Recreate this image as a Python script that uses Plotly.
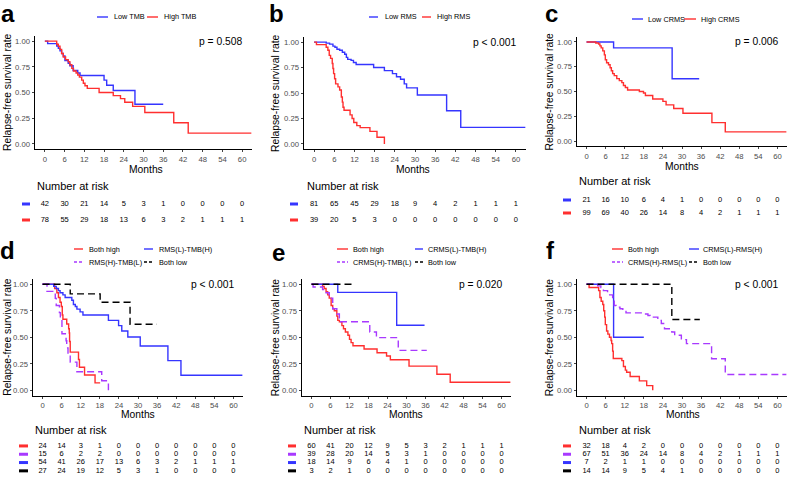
import plotly.graph_objects as go

W, H = 788, 477
FONT = "Liberation Sans"

MONTH_TICKS = [0, 6, 12, 18, 24, 30, 36, 42, 48, 54, 60]
SURV_TICKS = [0.0, 0.25, 0.5, 0.75, 1.0]
SURV_TICK_LABELS = ["0.00", "0.25", "0.50", "0.75", "1.00"]

RED = "#FF2F2F"
BLUE = "#3535FF"
PURPLE = "#A839FF"
BLACK = "#000000"

# ---------------- Panel a: TMB ----------------
A_LOW_T = [0, 0.85, 3.6, 4.1, 4.6, 5.1, 5.6, 6.1, 7.1, 7.6, 8.6, 10.0, 10.7, 18.0, 18.8, 20.8, 27.4, 36.0]
A_LOW_S = [1.0, 0.976, 0.952, 0.93, 0.905, 0.88, 0.855, 0.81, 0.785, 0.76, 0.714, 0.69, 0.665, 0.62, 0.57, 0.52, 0.385, 0.385]
A_HIGH_T = [0, 3.6, 4.1, 4.6, 5.1, 5.6, 6.3, 7.1, 7.6, 8.2, 8.7, 9.5, 10.0, 10.5, 11.2, 11.7, 12.2, 12.9, 16.5, 20.8, 23.0, 24.3, 26.7, 30.4, 39.2, 43.6, 62.8]
A_HIGH_S = [1.0, 0.97, 0.95, 0.92, 0.88, 0.845, 0.82, 0.80, 0.77, 0.735, 0.71, 0.69, 0.67, 0.65, 0.62, 0.59, 0.565, 0.54, 0.50, 0.47, 0.44, 0.405, 0.365, 0.305, 0.205, 0.105, 0.105]
A_RISK_LOW = [42, 30, 21, 14, 5, 3, 1, 0, 0, 0, 0]
A_RISK_HIGH = [78, 55, 29, 18, 13, 6, 3, 2, 1, 1, 1]

# ---------------- Panel b: RMS ----------------
B_LOW_T = [0, 3.6, 4.6, 5.6, 6.2, 6.8, 7.6, 8.4, 9.1, 9.6, 10.0, 11.0, 11.7, 12.5, 17.7, 20.9, 23.3, 24.5, 25.7, 26.8, 27.5, 30.7, 39.4, 43.6, 62.8]
B_LOW_S = [1.0, 0.99, 0.98, 0.96, 0.95, 0.93, 0.92, 0.90, 0.88, 0.85, 0.83, 0.82, 0.80, 0.78, 0.75, 0.72, 0.69, 0.66, 0.635, 0.59, 0.55, 0.48, 0.325, 0.162, 0.162]
B_HIGH_T = [0, 0.7, 3.6, 4.1, 4.5, 4.9, 5.4, 5.6, 5.8, 6.1, 6.4, 7.1, 7.6, 8.1, 8.4, 8.6, 8.9, 10.7, 11.3, 11.8, 12.7, 13.7, 16.6, 18.7, 20.9]
B_HIGH_S = [1.0, 0.975, 0.95, 0.92, 0.87, 0.84, 0.79, 0.74, 0.69, 0.64, 0.59, 0.56, 0.53, 0.46, 0.41, 0.36, 0.33, 0.285, 0.25, 0.21, 0.18, 0.16, 0.123, 0.065, 0.0]
B_RISK_LOW = [81, 65, 45, 29, 18, 9, 4, 2, 1, 1, 1]
B_RISK_HIGH = [39, 20, 5, 3, 0, 0, 0, 0, 0, 0, 0]

# ---------------- Panel c: CRMS ----------------
C_LOW_T = [0, 8.5, 26.9, 35.4]
C_LOW_S = [1.0, 0.94, 0.628, 0.628]
C_HIGH_T = [0, 2.9, 3.8, 4.2, 4.6, 5.1, 5.6, 5.9, 6.3, 6.9, 7.4, 7.8, 8.2, 8.7, 9.5, 10.3, 11.1, 11.6, 12.2, 12.9, 16.6, 17.9, 18.5, 20.8, 24.0, 25.0, 27.4, 30.3, 39.4, 43.6, 62.8]
C_HIGH_S = [1.0, 0.99, 0.98, 0.96, 0.94, 0.91, 0.87, 0.82, 0.79, 0.77, 0.74, 0.71, 0.68, 0.66, 0.63, 0.61, 0.59, 0.56, 0.54, 0.515, 0.50, 0.485, 0.46, 0.425, 0.40, 0.365, 0.328, 0.28, 0.186, 0.093, 0.093]
C_RISK_LOW = [21, 16, 10, 6, 4, 1, 0, 0, 0, 0, 0]
C_RISK_HIGH = [99, 69, 40, 26, 14, 8, 4, 2, 1, 1, 1]

# ---------------- Panel d: RMS x TMB ----------------
D_BH_T = [0, 3.8, 4.5, 5.0, 5.5, 5.9, 6.2, 6.4, 7.6, 8.2, 8.4, 8.5, 8.7, 11.3, 11.6, 13.2, 16.5, 18.1]
D_BH_S = [1.0, 0.96, 0.92, 0.875, 0.83, 0.79, 0.71, 0.67, 0.625, 0.58, 0.54, 0.46, 0.36, 0.29, 0.218, 0.145, 0.07, 0.07]
D_HL_T = [0, 1.4, 4.0, 4.3, 5.3, 5.6, 6.1, 7.4, 7.6, 8.0, 8.7, 10.8, 18.6, 20.7]
D_HL_S = [1.0, 0.933, 0.867, 0.80, 0.733, 0.667, 0.533, 0.467, 0.40, 0.333, 0.266, 0.175, 0.09, 0.0]
D_LH_T = [0, 3.5, 4.3, 5.0, 5.5, 6.4, 7.1, 9.2, 9.7, 10.3, 10.8, 11.8, 12.7, 20.7, 23.9, 24.9, 26.8, 30.7, 39.4, 43.5, 62.8]
D_LH_S = [1.0, 0.98, 0.96, 0.94, 0.92, 0.90, 0.875, 0.85, 0.81, 0.79, 0.766, 0.74, 0.71, 0.66, 0.61, 0.56, 0.503, 0.418, 0.28, 0.142, 0.142]
D_BL_T = [0, 8.7, 18.1, 27.5, 35.9]
D_BL_S = [1.0, 0.91, 0.83, 0.623, 0.623]
D_RISK_BH = [24, 14, 3, 1, 0, 0, 0, 0, 0, 0, 0]
D_RISK_HL = [15, 6, 2, 2, 0, 0, 0, 0, 0, 0, 0]
D_RISK_LH = [54, 41, 26, 17, 13, 6, 3, 2, 1, 1, 1]
D_RISK_BL = [27, 24, 19, 12, 5, 3, 1, 0, 0, 0, 0]

# ---------------- Panel e: CRMS x TMB ----------------
E_BH_T = [0, 3.5, 4.0, 4.6, 5.1, 5.6, 6.2, 6.7, 7.2, 8.0, 8.3, 8.8, 9.6, 10.1, 10.7, 11.5, 12.0, 12.5, 13.1, 16.6, 20.7, 23.7, 24.9, 30.8, 39.6, 43.8, 62.8]
E_BH_S = [1.0, 0.98, 0.96, 0.93, 0.90, 0.87, 0.80, 0.77, 0.75, 0.70, 0.66, 0.646, 0.61, 0.58, 0.55, 0.52, 0.48, 0.45, 0.42, 0.39, 0.354, 0.323, 0.288, 0.228, 0.152, 0.076, 0.076]
E_HL_T = [0, 0.5, 3.5, 4.6, 5.6, 6.7, 8.0, 8.8, 18.4, 20.5, 27.4, 36.4]
E_HL_S = [1.0, 0.975, 0.95, 0.92, 0.87, 0.77, 0.72, 0.646, 0.55, 0.497, 0.377, 0.377]
E_LH_T = [0, 8.3, 26.9, 35.7]
E_LH_S = [1.0, 0.924, 0.614, 0.614]
E_BL_T = [0, 12.8]
E_BL_S = [1.0, 1.0]
E_RISK_BH = [60, 41, 20, 12, 9, 5, 3, 2, 1, 1, 1]
E_RISK_HL = [39, 28, 20, 14, 5, 3, 1, 0, 0, 0, 0]
E_RISK_LH = [18, 14, 9, 6, 4, 1, 0, 0, 0, 0, 0]
E_RISK_BL = [3, 2, 1, 0, 0, 0, 0, 0, 0, 0, 0]

# ---------------- Panel f: CRMS x RMS ----------------
F_BH_T = [0, 0.8, 3.8, 4.2, 4.6, 5.1, 5.4, 5.7, 5.9, 6.3, 6.7, 7.2, 7.7, 7.9, 8.2, 8.4, 11.1, 11.6, 12.2, 12.6, 13.7, 16.6, 18.9, 20.8]
F_BH_S = [1.0, 0.97, 0.94, 0.875, 0.84, 0.81, 0.75, 0.69, 0.62, 0.56, 0.53, 0.50, 0.47, 0.44, 0.37, 0.30, 0.28, 0.225, 0.19, 0.17, 0.13, 0.089, 0.044, 0.0]
F_HL_T = [0, 3.5, 4.5, 5.3, 6.6, 8.2, 8.7, 9.3, 10.5, 11.4, 12.4, 17.7, 19.3, 20.0, 22.4, 23.5, 24.5, 26.8, 27.7, 29.8, 31.4, 39.3, 43.6, 62.8]
F_HL_S = [1.0, 0.985, 0.97, 0.94, 0.90, 0.85, 0.80, 0.785, 0.77, 0.75, 0.73, 0.72, 0.705, 0.69, 0.66, 0.63, 0.58, 0.55, 0.52, 0.478, 0.44, 0.297, 0.149, 0.149]
F_LH_T = [0, 8.5, 18.0]
F_LH_S = [1.0, 0.5, 0.5]
F_BL_T = [0, 26.8, 35.6]
F_BL_S = [1.0, 0.668, 0.668]
F_RISK_BH = [32, 18, 4, 2, 0, 0, 0, 0, 0, 0, 0]
F_RISK_HL = [67, 51, 36, 24, 14, 8, 4, 2, 1, 1, 1]
F_RISK_LH = [7, 2, 1, 1, 0, 0, 0, 0, 0, 0, 0]
F_RISK_BL = [14, 14, 9, 5, 4, 1, 0, 0, 0, 0, 0]

P_VALUES = ["p = 0.508", "p < 0.001", "p = 0.006", "p < 0.001", "p = 0.020", "p < 0.001"]
LETTERS = ["a", "b", "c", "d", "e", "f"]

SOLID, DASH = "solid", "7px,4px"

panels = [
    dict(curves=[("Low TMB", A_LOW_T, A_LOW_S, BLUE, SOLID), ("High TMB", A_HIGH_T, A_HIGH_S, RED, SOLID)],
         risk=[(A_RISK_LOW, BLUE), (A_RISK_HIGH, RED)]),
    dict(curves=[("Low RMS", B_LOW_T, B_LOW_S, BLUE, SOLID), ("High RMS", B_HIGH_T, B_HIGH_S, RED, SOLID)],
         risk=[(B_RISK_LOW, BLUE), (B_RISK_HIGH, RED)]),
    dict(curves=[("Low CRMS", C_LOW_T, C_LOW_S, BLUE, SOLID), ("High CRMS", C_HIGH_T, C_HIGH_S, RED, SOLID)],
         risk=[(C_RISK_LOW, BLUE), (C_RISK_HIGH, RED)]),
    dict(curves=[("Both high", D_BH_T, D_BH_S, RED, SOLID), ("RMS(L)-TMB(H)", D_LH_T, D_LH_S, BLUE, SOLID),
                 ("RMS(H)-TMB(L)", D_HL_T, D_HL_S, PURPLE, DASH), ("Both low", D_BL_T, D_BL_S, BLACK, DASH)],
         risk=[(D_RISK_BH, RED), (D_RISK_HL, PURPLE), (D_RISK_LH, BLUE), (D_RISK_BL, BLACK)]),
    dict(curves=[("Both high", E_BH_T, E_BH_S, RED, SOLID), ("CRMS(L)-TMB(H)", E_LH_T, E_LH_S, BLUE, SOLID),
                 ("CRMS(H)-TMB(L)", E_HL_T, E_HL_S, PURPLE, DASH), ("Both low", E_BL_T, E_BL_S, BLACK, DASH)],
         risk=[(E_RISK_BH, RED), (E_RISK_HL, PURPLE), (E_RISK_LH, BLUE), (E_RISK_BL, BLACK)]),
    dict(curves=[("Both high", F_BH_T, F_BH_S, RED, SOLID), ("CRMS(L)-RMS(H)", F_LH_T, F_LH_S, BLUE, SOLID),
                 ("CRMS(H)-RMS(L)", F_HL_T, F_HL_S, PURPLE, DASH), ("Both low", F_BL_T, F_BL_S, BLACK, DASH)],
         risk=[(F_RISK_BH, RED), (F_RISK_HL, PURPLE), (F_RISK_LH, BLUE), (F_RISK_BL, BLACK)]),
]

# pixel layout: plot (x0, x1, ytop, ybot), table (ytop, ybot)
layout_px = [
    dict(plot=(35, 252, 36, 149), table=(196, 228), ytitle_x=7.5, months=(146, 169), nar=(35, 186),
         letter=(8, 13.5), legend_y=[17], legend_keys=[(97, 108, 112), (147, 158, 162)], key_x=(22, 30)),
    dict(plot=(304, 526, 37, 149), table=(196, 228), ytitle_x=276, months=(413, 169), nar=(305, 186),
         letter=(276, 13.5), legend_y=[17], legend_keys=[(369, 378, 383), (422, 431, 435)], key_x=(290, 298)),
    dict(plot=(577, 787, 37, 146), table=(193.5, 219.5), ytitle_x=549, months=(682, 166), nar=(577, 181),
         letter=(551, 13.5), legend_y=[19], legend_keys=[(632, 643, 646), (684, 696, 699)], key_x=(563, 571)),
    dict(plot=(33, 243, 279, 395.6), table=(441.8, 475), ytitle_x=7.5, months=(138, 414.5), nar=(33, 430),
         letter=(7, 250), legend_y=[249, 262], legend_keys=[(74, 83, 87), (144, 153, 157)], key_x=(19, 28)),
    dict(plot=(302, 511, 279, 395.6), table=(441.8, 475), ytitle_x=275, months=(406, 414.5), nar=(302, 430),
         letter=(278, 252), legend_y=[249, 262], legend_keys=[(337, 348, 351), (415, 423, 426)], key_x=(288, 296)),
    dict(plot=(577, 787, 279, 395.6), table=(441.8, 475), ytitle_x=549, months=(683, 414.5), nar=(577, 430),
         letter=(550, 251), legend_y=[249, 262], legend_keys=[(612, 623, 626), (689, 699, 701)], key_x=(563, 571)),
]


def fx(px):
    return px / W


def fy(py):
    return 1 - py / H


fig = go.Figure()
annotations = []
shapes = []
lay = {}

for i, (pan, L) in enumerate(zip(panels, layout_px)):
    pi = i + 1
    ti = i + 7
    x0, x1, yt, yb = L["plot"]
    # plot axes
    lay[f"xaxis{pi}"] = dict(domain=[fx(x0), fx(x1)], range=[-3, 63], anchor=f"y{pi}",
                             tickvals=MONTH_TICKS, ticks="outside", ticklen=2.5, tickwidth=0.8,
                             showline=True, linecolor="black", linewidth=0.8, showgrid=False, zeroline=False,
                             tickfont=dict(size=7.7, color="#4D4D4D", family=FONT), fixedrange=True)
    lay[f"yaxis{pi}"] = dict(domain=[fy(yb), fy(yt)], range=[-0.05, 1.05], anchor=f"x{pi}",
                             tickvals=SURV_TICKS, ticktext=SURV_TICK_LABELS, ticks="outside", ticklen=2.5,
                             tickwidth=0.8, showline=True, linecolor="black", linewidth=0.8, showgrid=False,
                             zeroline=False, tickfont=dict(size=7.7, color="#4D4D4D", family=FONT), fixedrange=True)
    # table axes
    tyt, tyb = L["table"]
    n = len(pan["risk"])
    lay[f"xaxis{ti}"] = dict(domain=[fx(x0), fx(x1)], range=[-3, 63], anchor=f"y{ti}", visible=False,
                             fixedrange=True)
    lay[f"yaxis{ti}"] = dict(domain=[fy(tyb), fy(tyt)], range=[n - 0.5, -0.5], anchor=f"x{ti}", visible=False,
                             fixedrange=True)

    for name, t, s, col, dash in pan["curves"]:
        fig.add_trace(go.Scatter(x=t, y=s, mode="lines", line=dict(shape="hv", color=col, width=1.4, dash=dash),
                                 name=name, showlegend=False, xaxis=f"x{pi}", yaxis=f"y{pi}", hoverinfo="skip"))

    row_h = (tyb - tyt) / n
    for r, (vals, col) in enumerate(pan["risk"]):
        fig.add_trace(go.Scatter(x=MONTH_TICKS, y=[r] * len(vals), mode="text", text=[str(v) for v in vals],
                                 textfont=dict(size=7.5, color="black", family=FONT), showlegend=False,
                                 xaxis=f"x{ti}", yaxis=f"y{ti}", cliponaxis=False, hoverinfo="skip"))
        ry = tyt + (r + 0.5) * row_h
        kx0, kx1 = L["key_x"]
        shapes.append(dict(type="line", xref="paper", yref="paper", x0=fx(kx0), x1=fx(kx1), y0=fy(ry), y1=fy(ry),
                           line=dict(color=col, width=3)))

    # legend (manual)
    curves = pan["curves"]
    for k, (name, t, s, col, dash) in enumerate(curves):
        row = k // 2
        colk = k % 2
        ly = L["legend_y"][row] if row < len(L["legend_y"]) else L["legend_y"][-1]
        kx0, kx1, tx = L["legend_keys"][colk]
        shapes.append(dict(type="line", xref="paper", yref="paper", x0=fx(kx0), x1=fx(kx1), y0=fy(ly), y1=fy(ly),
                           line=dict(color=col, width=1.4, dash="3px,2px" if dash != SOLID else "solid")))
        annotations.append(dict(xref="paper", yref="paper", x=fx(tx), y=fy(ly), text=name, showarrow=False,
                                xanchor="left", yanchor="middle", font=dict(size=7.3, color="black", family=FONT)))

    # p-value
    annotations.append(dict(xref=f"x{pi}", yref=f"y{pi}", x=61, y=1.0, text=P_VALUES[i], showarrow=False,
                            xanchor="right", yanchor="middle", font=dict(size=10.3, color="black", family=FONT)))
    # axis titles
    annotations.append(dict(xref="paper", yref="paper", x=fx(L["ytitle_x"]), y=fy((yt + yb) / 2),
                            text="Relapse-free survival rate", textangle=-90, showarrow=False,
                            xanchor="center", yanchor="middle", font=dict(size=10.3, color="black", family=FONT)))
    mx, my = L["months"]
    annotations.append(dict(xref="paper", yref="paper", x=fx(mx), y=fy(my), text="Months", showarrow=False,
                            xanchor="center", yanchor="middle", font=dict(size=10.3, color="black", family=FONT)))
    nx, ny = L["nar"]
    annotations.append(dict(xref="paper", yref="paper", x=fx(nx), y=fy(ny), text="Number at risk", showarrow=False,
                            xanchor="left", yanchor="middle", font=dict(size=11, color="black", family=FONT)))
    lx, lyy = L["letter"]
    annotations.append(dict(xref="paper", yref="paper", x=fx(lx), y=fy(lyy), text=f"<b>{LETTERS[i]}</b>",
                            showarrow=False, xanchor="center", yanchor="middle",
                            font=dict(size=24, color="black", family=FONT)))

fig.update_layout(width=W, height=H, margin=dict(l=0, r=0, t=0, b=0), plot_bgcolor="white",
                  paper_bgcolor="white", showlegend=False, annotations=annotations, shapes=shapes,
                  font=dict(family=FONT), **lay)

fig.write_html("out.html", config={"displayModeBar": False},
               post_script="document.body.style.margin='0';document.body.style.padding='0';")
